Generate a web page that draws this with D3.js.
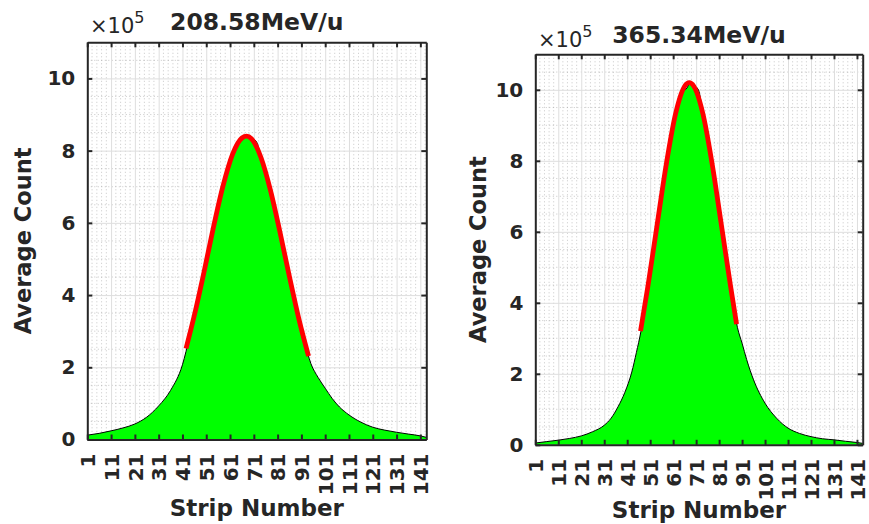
<!DOCTYPE html>
<html lang="en">
<head>
    <meta charset="UTF-8">
    <title>Average Count vs Strip Number</title>
    <script src="https://d3js.org/d3.v7.min.js"></script>
    <style>
        body { margin: 0; background: #fff; }
        text { font-family: "DejaVu Sans", Arial, sans-serif; fill: #262626; }
    </style>
</head>
<body>
<svg width="869" height="524"></svg>
<script type="text/javascript">

    // ---- data (counts in units of 1e5) ----
    var stripTicks = [1, 11, 21, 31, 41, 51, 61, 71, 81, 91, 101, 111, 121, 131, 141];
    var countTicks = [0, 2, 4, 6, 8, 10];

    // 208.58 MeV/u
    var leftStrip = [1, 6, 11, 16, 21, 26, 31, 36, 41, 44, 47, 50, 53, 56, 59, 62, 64, 66, 68, 70, 72, 74,
        77, 80, 83, 86, 89, 92, 95, 98, 101, 104, 107, 111, 116, 121, 126, 131, 136, 141, 143.5];
    var leftCount = [0.12, 0.17, 0.24, 0.32, 0.43, 0.62, 0.93, 1.36, 2.07, 2.85, 3.7, 4.6, 5.55, 6.45, 7.25, 7.85, 8.15, 8.3, 8.42, 8.35, 8.26, 7.85,
        7.15, 6.35, 5.45, 4.5, 3.6, 2.8, 2.1, 1.72, 1.42, 1.13, 0.9, 0.68, 0.48, 0.34, 0.26, 0.2, 0.15, 0.1, 0.06];
    var leftFitStrip = [42.5, 46, 50, 54, 58, 62, 66, 68, 70, 74, 78, 82, 86, 90, 94];
    var leftFitCount = [2.52, 3.44, 4.62, 5.87, 7.01, 7.89, 8.35, 8.4, 8.33, 7.81, 6.9, 5.74, 4.5, 3.32, 2.31];

    // 365.34 MeV/u
    var rightStrip = [1, 6, 11, 16, 21, 26, 31, 34, 37, 40, 43, 45, 47, 50, 53, 56, 59, 62, 65, 67, 68,
        70, 72, 74, 77, 80, 83, 86, 89, 91, 93, 96, 101, 106, 111, 116, 121, 126, 131, 136, 141, 143.5];
    var rightCount = [0.05, 0.09, 0.13, 0.18, 0.25, 0.37, 0.55, 0.75, 1.07, 1.48, 2.05, 2.6, 3.2, 4.4, 5.75, 7.05, 8.25, 9.25, 9.9, 10.05, 10.15,
        10.12, 10.0, 9.3, 8.3, 7.05, 5.75, 4.45, 3.3, 2.86, 2.4, 1.83, 1.17, 0.75, 0.47, 0.32, 0.23, 0.17, 0.14, 0.1, 0.065, 0.04];
    var rightFitStrip = [46.8, 50, 54, 58, 62, 66, 68, 70, 74, 78, 82, 86, 88.6];
    var rightFitCount = [3.2, 4.46, 6.19, 7.9, 9.31, 10.1, 10.2, 10.1, 9.31, 7.9, 6.19, 4.46, 3.4];

    var svg = d3.select("svg");
    var axisColor = "#262626";

    // panel frames and text positions
    var panels = [
        {title: "208.58MeV/u", strip: leftStrip, count: leftCount, fitStrip: leftFitStrip, fitCount: leftFitCount,
         left: 87.3, right: 426.3, top: 42.3, bottom: 439.5,
         titleY: 30, expoX: 90, expoY: 33, yLabelX: 31, xLabelY: 516},
        {title: "365.34MeV/u", strip: rightStrip, count: rightCount, fitStrip: rightFitStrip, fitCount: rightFitCount,
         left: 535.3, right: 862.7, top: 54.3, bottom: 444.8,
         titleY: 43, expoX: 538, expoY: 46.7, yLabelX: 486, xLabelY: 517.5}
    ];

    panels.forEach(drawPanel);

    function drawPanel(p) {
        var x = d3.scaleLinear().domain([1, 143.5]).range([p.left, p.right]);
        var y = d3.scaleLinear().domain([0, 11]).range([p.bottom, p.top]);
        var w = p.right - p.left, h = p.bottom - p.top;
        var g = svg.append("g");

        // minor grid (dotted)
        var minorX = d3.range(1, 144, 2).filter(function(d) { return (d - 1) % 10 !== 0; });
        var minorY = d3.range(0.5, 11, 0.5).filter(function(d) { return d % 2 !== 0; });
        var gm = g.append("g").attr("class", "minor");
        gm.selectAll("line.mx").data(minorX).enter().append("line")
            .attr("x1", function(d) { return x(d); }).attr("x2", function(d) { return x(d); })
            .attr("y1", p.top).attr("y2", p.bottom);
        gm.selectAll("line.my").data(minorY).enter().append("line")
            .attr("y1", function(d) { return y(d); }).attr("y2", function(d) { return y(d); })
            .attr("x1", p.left).attr("x2", p.right);
        gm.selectAll("line").attr("stroke", "#9a9a9a").attr("stroke-opacity", 0.55)
            .attr("stroke-width", 1).attr("stroke-dasharray", "1 2.5");

        // major grid
        g.append("g").attr("transform", "translate(0," + p.bottom + ")")
            .call(d3.axisBottom(x).tickValues(stripTicks).tickSize(-h).tickFormat(""))
            .call(function(s) { s.select(".domain").remove(); s.selectAll("line").attr("stroke", "#dedede"); });
        g.append("g").attr("transform", "translate(" + p.left + ",0)")
            .call(d3.axisLeft(y).tickValues(countTicks).tickSize(-w).tickFormat(""))
            .call(function(s) { s.select(".domain").remove(); s.selectAll("line").attr("stroke", "#dedede"); });

        // measured counts: green filled area with black outline
        var pts = p.strip.map(function(s, i) { return [s, p.count[i]]; });
        g.append("path").datum(pts)
            .attr("fill", "#00ff00")
            .attr("d", d3.area().curve(d3.curveMonotoneX)
                .x(function(d) { return x(d[0]); })
                .y0(y(0))
                .y1(function(d) { return y(d[1]); }));
        g.append("path").datum(pts)
            .attr("fill", "none").attr("stroke", "#000").attr("stroke-width", 1)
            .attr("d", d3.line().curve(d3.curveMonotoneX)
                .x(function(d) { return x(d[0]); })
                .y(function(d) { return y(d[1]); }));

        // gaussian fit (red)
        var fit = p.fitStrip.map(function(s, i) { return [s, p.fitCount[i]]; });
        g.append("path").datum(fit)
            .attr("fill", "none").attr("stroke", "#ff0000").attr("stroke-width", 4.8)
            .attr("d", d3.line().curve(d3.curveMonotoneX)
                .x(function(d) { return x(d[0]); })
                .y(function(d) { return y(d[1]); }));

        // axes box with inward ticks on all sides
        var ax = g.append("g").attr("class", "axes");
        var bottomAxis = ax.append("g").attr("transform", "translate(0," + p.bottom + ")")
            .call(d3.axisBottom(x).tickValues(stripTicks).tickSizeInner(-5).tickSizeOuter(0));
        ax.append("g").attr("transform", "translate(0," + p.top + ")")
            .call(d3.axisTop(x).tickValues(stripTicks).tickSizeInner(-5).tickSizeOuter(0).tickFormat(""));
        ax.append("g").attr("transform", "translate(" + p.left + ",0)")
            .call(d3.axisLeft(y).tickValues(countTicks).tickSizeInner(-5).tickSizeOuter(0).tickPadding(12));
        ax.append("g").attr("transform", "translate(" + p.right + ",0)")
            .call(d3.axisRight(y).tickValues(countTicks).tickSizeInner(-5).tickSizeOuter(0).tickFormat(""));
        ax.selectAll(".domain").attr("stroke", axisColor).attr("stroke-width", 2);
        ax.selectAll(".tick line").attr("stroke", axisColor).attr("stroke-width", 2);
        ax.selectAll(".tick text")
            .style("font-family", "'DejaVu Sans', Arial, sans-serif")
            .style("font-weight", "bold").style("font-size", "20px").attr("fill", axisColor);

        // rotated strip labels
        bottomAxis.selectAll(".tick text")
            .attr("transform", "rotate(-90)")
            .attr("text-anchor", "end")
            .attr("x", -14).attr("y", 0).attr("dy", "0.36em");

        // title and exponent
        var cx = (p.left + p.right) / 2;
        g.append("text").attr("x", cx).attr("y", p.titleY)
            .attr("text-anchor", "middle")
            .style("font-weight", "bold").style("font-size", "23.5px")
            .text(p.title);
        var ex = g.append("text").attr("x", p.expoX).attr("y", p.expoY)
            .style("font-size", "21px");
        ex.append("tspan").text("\u00d710");
        ex.append("tspan").attr("dy", -10).style("font-size", "16px").text("5");

        // axis labels
        g.append("text")
            .attr("transform", "translate(" + p.yLabelX + "," + ((p.top + p.bottom) / 2) + ") rotate(-90)")
            .attr("text-anchor", "middle")
            .style("font-weight", "bold").style("font-size", "22.5px")
            .text("Average Count");
        g.append("text").attr("x", cx).attr("y", p.xLabelY)
            .attr("text-anchor", "middle")
            .style("font-weight", "bold").style("font-size", "23px")
            .text("Strip Number");
    }

</script>
</body>
</html>
